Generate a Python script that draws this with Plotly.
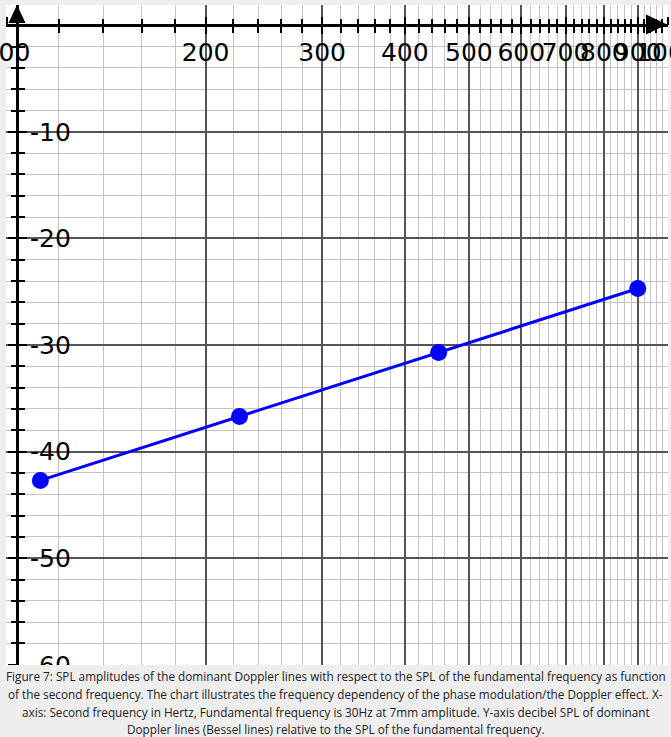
import numpy as np
import plotly.graph_objects as go

# ---- data ----
freq_hz = [112.5, 225, 450, 900]
spl_db = [-42.7, -36.7, -30.7, -24.7]

x_major = [100, 200, 300, 400, 500, 600, 700, 800, 900, 1000]
x_major_labels = ["100", "200", "300", "400", "500", "600", "700", "800", "900", "1000"]
x_minor = [v for v in range(100, 1001, 20) if v % 100 != 0]
y_major = [-60, -50, -40, -30, -20, -10]
y_major_labels = ["-60", "-50", "-40", "-30", "-20", "-10"]
y_minor = [v for v in range(-60, 1, 2) if v % 10 != 0]

caption_lines = [
    "Figure 7: SPL amplitudes of the dominant Doppler lines with respect to the SPL of the fundamental frequency as function",
    "of the second frequency. The chart illustrates the frequency dependency of the phase modulation/the Doppler effect. X-",
    "axis: Second frequency in Hertz, Fundamental frequency is 30Hz at 7mm amplitude. Y-axis decibel SPL of dominant",
    "Doppler lines (Bessel lines) relative to the SPL of the fundamental frequency.",
]

# ---- layout geometry (pixels) ----
W, H = 671, 737
ML, MR, MT, MB = 6, 3, 5, 72
PW, PH = W - ML - MR, H - MT - MB
Y_TOP = 1.9
Y_BOT = -60.02


def px_to_paper_x(px):
    return (px - ML) / PW


def px_to_paper_y(py):
    return (H - MB - py) / PH


yaxis_x = px_to_paper_x(17)
xaxis_y = 1 - (0 - Y_TOP) / (Y_BOT - Y_TOP)  # position of y=0

fig = go.Figure()
fig.add_trace(go.Scatter(
    x=freq_hz, y=spl_db, mode="lines+markers",
    line=dict(color="#0000ff", width=3),
    marker=dict(color="#0000ff", size=17),
    showlegend=False, cliponaxis=False,
))

tickfont = dict(family="DejaVu Sans", size=25, color="black")
xr = [np.log10(100) - 0.0008, 3.0]
yr = [Y_BOT, Y_TOP]
MINOR_GRID = "#c4c4c4"
MAJOR_GRID = "#555555"

common_x = dict(type="log", range=xr, domain=[0, 1], automargin=False,
                side="top", anchor="free", position=xaxis_y, tickmode="array",
                zeroline=False, tickangle=0)
common_y = dict(type="linear", range=yr, domain=[0, 1], automargin=False,
                side="left", anchor="free", position=yaxis_x, tickmode="array",
                zeroline=False, tickangle=0)

fig.update_layout(
    template="none",
    width=W, height=H,
    margin=dict(l=ML, r=MR, t=MT, b=MB, pad=0, autoexpand=False),
    paper_bgcolor="#eeeeee",
    plot_bgcolor="white",
    # x: minor grid + minor ticks (below line)
    xaxis=dict(**common_x, tickvals=x_minor, showticklabels=False,
               ticks="inside", ticklen=6, tickwidth=1.5, tickcolor="black",
               showgrid=True, gridcolor=MINOR_GRID, gridwidth=1,
               showline=True, linecolor="black", linewidth=3),
    # x: minor ticks (above line)
    xaxis2=dict(**common_x, overlaying="x", tickvals=x_minor, showticklabels=False,
                ticks="outside", ticklen=6, tickwidth=1.5, tickcolor="black",
                showgrid=False, showline=False),
    # x: major grid + labels + ticks
    xaxis3=dict(**common_x, overlaying="x", tickvals=x_major, ticktext=x_major_labels,
                ticklabelposition="inside", ticklabeloverflow="allow",
                ticklabelstandoff=11, tickfont=tickfont,
                ticks="inside", ticklen=8, tickwidth=2, tickcolor="black",
                showgrid=True, gridcolor=MAJOR_GRID, gridwidth=1.5,
                showline=False),
    xaxis4=dict(**common_x, overlaying="x", tickvals=x_major, showticklabels=False,
                ticks="outside", ticklen=8, tickwidth=2, tickcolor="black",
                showgrid=False, showline=False),
    # y: minor grid + minor ticks
    yaxis=dict(**common_y, tickvals=y_minor, showticklabels=False,
               ticks="inside", ticklen=6, tickwidth=1.5, tickcolor="black",
               showgrid=True, gridcolor=MINOR_GRID, gridwidth=1,
               showline=True, linecolor="black", linewidth=3),
    yaxis2=dict(**common_y, overlaying="y", tickvals=y_minor, showticklabels=False,
                ticks="outside", ticklen=6, tickwidth=1.5, tickcolor="black",
                showgrid=False, showline=False),
    yaxis3=dict(**common_y, overlaying="y", tickvals=y_major, ticktext=y_major_labels,
                ticklabelposition="inside", ticklabeloverflow="allow",
                ticklabelstandoff=5, tickfont=tickfont,
                ticks="inside", ticklen=9, tickwidth=2, tickcolor="black",
                showgrid=True, gridcolor=MAJOR_GRID, gridwidth=1.5,
                showline=False),
    yaxis4=dict(**common_y, overlaying="y", tickvals=y_major, showticklabels=False,
                ticks="outside", ticklen=9, tickwidth=2, tickcolor="black",
                showgrid=False, showline=False),
)

# invisible helper traces so the overlay axes are drawn
for xa, ya in [("x2", "y"), ("x3", "y"), ("x4", "y"), ("x", "y2"), ("x", "y3"), ("x", "y4")]:
    fig.add_trace(go.Scatter(x=[freq_hz[0]], y=[spl_db[0]], xaxis=xa, yaxis=ya,
                             mode="markers", marker=dict(opacity=0),
                             showlegend=False, hoverinfo="skip"))

shapes = []
# cover below the plot (clips the -60 label like the original image edge)
shapes.append(dict(type="rect", xref="paper", yref="paper",
                   x0=-0.02, x1=1.02, y0=px_to_paper_y(H + 5), y1=px_to_paper_y(H - MB),
                   fillcolor="#eeeeee", line=dict(width=0), layer="above"))
# arrowhead at top of y axis
ax_px = 17
shapes.append(dict(type="path", xref="paper", yref="paper",
                   path="M {} {} L {} {} L {} {} Z".format(
                       px_to_paper_x(ax_px - 8.5), px_to_paper_y(23),
                       px_to_paper_x(ax_px), px_to_paper_y(5),
                       px_to_paper_x(ax_px + 8.5), px_to_paper_y(23)),
                   fillcolor="black", line=dict(width=0), layer="above"))
# arrowhead at right of x axis
ay_px = 24.5
shapes.append(dict(type="path", xref="paper", yref="paper",
                   path="M {} {} L {} {} L {} {} Z".format(
                       px_to_paper_x(646), px_to_paper_y(ay_px - 10),
                       px_to_paper_x(667), px_to_paper_y(ay_px),
                       px_to_paper_x(646), px_to_paper_y(ay_px + 10)),
                   fillcolor="black", line=dict(width=0), layer="above"))
fig.update_layout(shapes=shapes)

cap_y = [676, 694, 712, 729]
for line, py in zip(caption_lines, cap_y):
    fig.add_annotation(text=line, xref="paper", yref="paper",
                       x=px_to_paper_x(335.5), y=px_to_paper_y(py),
                       xanchor="center", yanchor="middle", showarrow=False,
                       font=dict(family="Open Sans", size=11.75, color="#222222"))

fig.write_html("out.html")
